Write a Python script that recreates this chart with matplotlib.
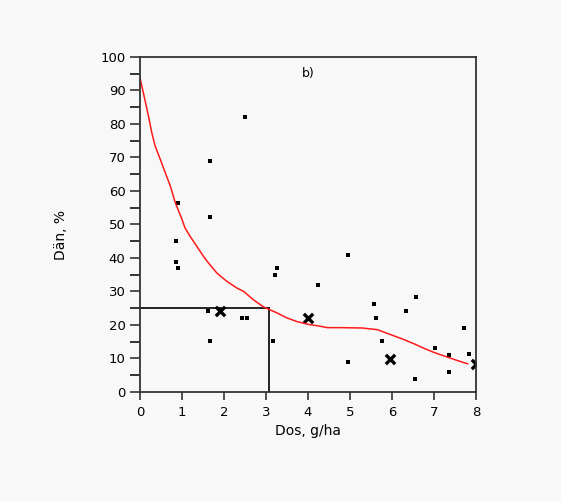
import matplotlib.pyplot as plt

# single observations (dose g/ha, effect %)
dose_obs = [0.90, 0.86, 0.86, 0.90, 1.67, 1.67, 1.63, 1.67,
            2.51, 2.43, 2.54, 3.25, 3.21, 3.17,
            4.23, 4.96, 4.96, 5.57, 5.61, 5.77, 6.33, 6.57, 6.54,
            7.02, 7.36, 7.36, 7.72, 7.84]
effect_obs = [56.3, 45.0, 38.9, 36.9, 69.0, 52.2, 24.3, 15.1,
              82.1, 22.2, 22.2, 36.9, 34.9, 15.1,
              31.8, 41.0, 9.0, 26.3, 22.2, 15.1, 24.2, 28.3, 3.9,
              13.1, 11.1, 5.9, 19.2, 11.3]

# treatment means
dose_mean = [1.9, 4.0, 5.95, 8.0]
effect_mean = [24.3, 22.0, 9.8, 8.4]

# fitted response curve
curve_x = [0.0, 0.04, 0.12, 0.20, 0.28, 0.36, 0.48, 0.60, 0.72, 0.84,
           1.00, 1.07, 1.19, 1.35, 1.51, 1.63, 1.83, 2.07, 2.31, 2.47,
           2.70, 2.94, 3.26, 3.50, 3.74, 4.00, 4.30, 4.46, 4.80, 5.29,
           5.65, 5.97, 6.25, 6.52, 6.75, 7.00, 7.32, 7.55, 7.80]
curve_y = [93.8, 91.5, 87.0, 82.4, 77.4, 73.4, 69.5, 65.5, 61.5, 56.5,
           51.5, 49.0, 46.5, 43.5, 40.5, 38.5, 35.5, 33.0, 31.0, 30.0,
           27.5, 25.4, 23.6, 22.1, 21.0, 20.2, 19.6, 19.2, 19.2, 19.1,
           18.6, 17.1, 15.8, 14.4, 13.1, 11.8, 10.4, 9.4, 8.4]

# dose giving 25 % effect
ed_level = 25
ed_dose = 3.06

bg = '#f8f8f8'
fig = plt.figure(figsize=(5.61, 5.01), dpi=100, facecolor=bg)
ax = fig.add_axes([0.2496, 0.2176, 0.599, 0.6687], facecolor=bg)

ax.plot([0, ed_dose], [ed_level, ed_level], color='black', lw=1.2)
ax.plot([ed_dose, ed_dose], [0, ed_level], color='black', lw=1.2)
ax.plot(curve_x, curve_y, color='#ff1a1a', lw=1.1)
ax.scatter(dose_obs, effect_obs, marker='s', s=5, color='black', lw=0)
ax.scatter(dose_mean, effect_mean, marker='x', s=45, color='black', lw=2.4)

ax.text(4.0, 95, 'b)', ha='center', va='center', fontsize=9)

ax.set_xlim(0, 8)
ax.set_ylim(0, 100)
ax.set_xticks(range(0, 9))
ax.set_yticks(range(0, 101, 10))
ax.set_yticks(range(5, 100, 10), minor=True)
ax.tick_params(axis='both', direction='out', labelsize=9.5, width=1.1,
               color='#222222')
ax.tick_params(axis='y', which='both', length=7, width=1.1)
ax.tick_params(axis='x', length=6, pad=4)
for s in ax.spines.values():
    s.set_linewidth(1.3)
    s.set_color('#333333')

ax.set_xlabel('Dos, g/ha', fontsize=10, labelpad=4)
ax.set_ylabel('Dän, %', fontsize=10)
ax.yaxis.set_label_coords(-0.215, 0.47)

fig.savefig('out.png', dpi=100, facecolor=bg)
